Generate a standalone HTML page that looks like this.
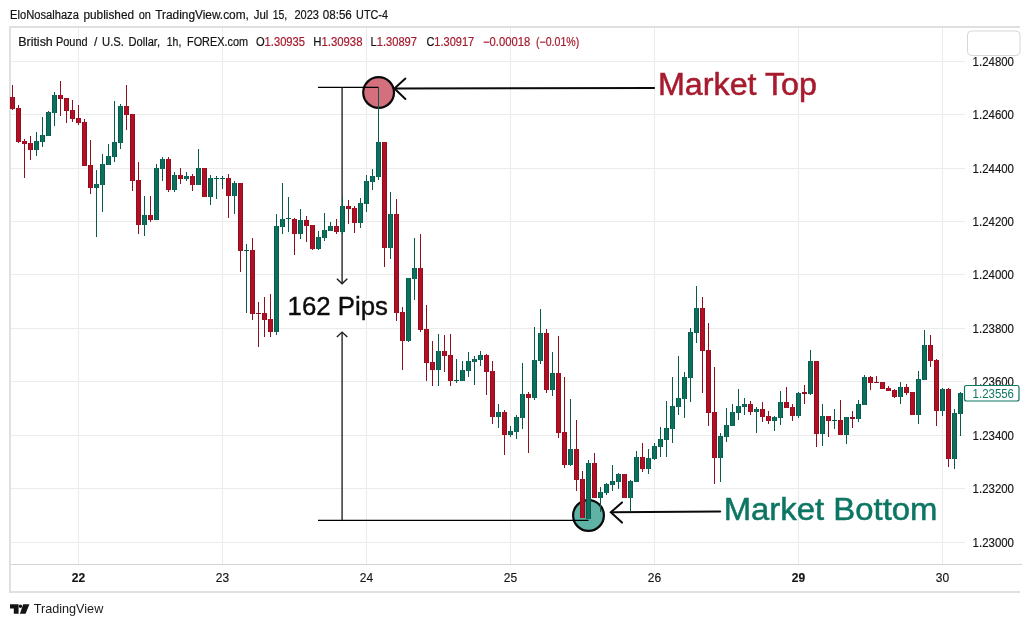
<!DOCTYPE html>
<html lang="en"><head><meta charset="utf-8"><title>GBPUSD chart</title>
<style>
html,body{margin:0;padding:0;background:#fff;}
body{width:1034px;height:627px;overflow:hidden;font-family:"Liberation Sans","DejaVu Sans",sans-serif;}
svg{display:block;}
text{font-family:"Liberation Sans","DejaVu Sans",sans-serif;}
.ax{font-size:12px;fill:#141414;stroke:#141414;stroke-width:0.15px;}
.t12{font-size:12px;fill:#141414;stroke:#141414;stroke-width:0.2px;}
.rv{fill:#a61b2e;stroke:#a61b2e;}
</style></head><body>
<svg width="1034" height="627" viewBox="0 0 1034 627">
<rect width="1034" height="627" fill="#ffffff"/>

<g shape-rendering="crispEdges" stroke="#ebebeb" stroke-width="1">
<line x1="11" y1="61.5" x2="965" y2="61.5"/>
<line x1="11" y1="114.5" x2="965" y2="114.5"/>
<line x1="11" y1="168.5" x2="965" y2="168.5"/>
<line x1="11" y1="221.5" x2="965" y2="221.5"/>
<line x1="11" y1="274.5" x2="965" y2="274.5"/>
<line x1="11" y1="328.5" x2="965" y2="328.5"/>
<line x1="11" y1="381.5" x2="965" y2="381.5"/>
<line x1="11" y1="435.5" x2="965" y2="435.5"/>
<line x1="11" y1="488.5" x2="965" y2="488.5"/>
<line x1="11" y1="542.5" x2="965" y2="542.5"/>
<line x1="78.5" y1="28" x2="78.5" y2="564"/>
<line x1="222.5" y1="28" x2="222.5" y2="564"/>
<line x1="366.5" y1="28" x2="366.5" y2="564"/>
<line x1="510.5" y1="28" x2="510.5" y2="564"/>
<line x1="654.5" y1="28" x2="654.5" y2="564"/>
<line x1="798.5" y1="28" x2="798.5" y2="564"/>
<line x1="942.5" y1="28" x2="942.5" y2="564"/>
</g>
<g shape-rendering="crispEdges">
<rect x="9" y="26" width="1011" height="2" fill="#e0e0e0"/>
<rect x="9" y="26" width="2" height="567" fill="#e0e0e0"/>
<rect x="9" y="591" width="1011" height="2" fill="#e0e0e0"/>
<rect x="11" y="564" width="1011" height="1" fill="#d4d4d4"/>
</g><circle cx="378.6" cy="92.5" r="15.4" fill="#d4707e" stroke="#0a0a0a" stroke-width="2.2"/>
<circle cx="588.5" cy="515.5" r="15.4" fill="#5eb3a5" stroke="#0a0a0a" stroke-width="2.2"/>
<g fill="none" stroke="#1a1a1a" stroke-linecap="butt">
<line x1="318" y1="87.4" x2="378.6" y2="87.4" stroke-width="1.2" stroke="#000"/>
<line x1="318" y1="520.3" x2="588.5" y2="520.3" stroke-width="1.2" stroke="#000"/>
<line x1="342.1" y1="87.6" x2="342.1" y2="283.5" stroke-width="1.4" stroke="#262626"/>
<line x1="342.1" y1="332.4" x2="342.1" y2="520.3" stroke-width="1.4" stroke="#262626"/>
<polyline points="336.9,278.8 342.1,283.8 347.3,278.8" stroke-width="1.4" stroke="#1c1c1c"/>
<polyline points="336.9,337.1 342.1,332.1 347.3,337.1" stroke-width="1.4" stroke="#1c1c1c"/>
</g>
<g fill="none" stroke="#0a0a0a" stroke-width="2" stroke-linecap="round" stroke-linejoin="miter">
<line x1="395" y1="88.6" x2="654.8" y2="88.0" stroke-linecap="butt"/>
<polyline points="405.4,78.6 394.4,88.6 405.4,99"/>
<line x1="611.5" y1="512.3" x2="720.2" y2="511.5"/>
<polyline points="622,502.4 610.8,512.3 622,522.6"/>
</g><g shape-rendering="crispEdges">
<rect x="12" y="85" width="1" height="25" fill="#8e1020"/>
<rect x="10" y="97" width="5" height="12" fill="#8e1020"/><rect x="11" y="97" width="3" height="12" fill="#b30f24"/>
<rect x="18" y="105" width="1" height="38" fill="#8e1020"/>
<rect x="16" y="108" width="5" height="34" fill="#8e1020"/><rect x="17" y="108" width="3" height="34" fill="#b30f24"/>
<rect x="24" y="139" width="1" height="39" fill="#8e1020"/>
<rect x="22" y="141" width="5" height="3" fill="#8e1020"/><rect x="23" y="141" width="3" height="3" fill="#b30f24"/>
<rect x="30" y="136" width="1" height="24" fill="#8e1020"/>
<rect x="28" y="143" width="5" height="7" fill="#8e1020"/><rect x="29" y="143" width="3" height="7" fill="#b30f24"/>
<rect x="36" y="132" width="1" height="24" fill="#085a4a"/>
<rect x="34" y="141" width="5" height="9" fill="#085a4a"/><rect x="35" y="141" width="3" height="9" fill="#0b715e"/>
<rect x="42" y="117" width="1" height="30" fill="#085a4a"/>
<rect x="40" y="135" width="5" height="7" fill="#085a4a"/><rect x="41" y="135" width="3" height="7" fill="#0b715e"/>
<rect x="48" y="111" width="1" height="25" fill="#085a4a"/>
<rect x="46" y="112" width="5" height="24" fill="#085a4a"/><rect x="47" y="112" width="3" height="24" fill="#0b715e"/>
<rect x="54" y="92" width="1" height="34" fill="#085a4a"/>
<rect x="52" y="95" width="5" height="18" fill="#085a4a"/><rect x="53" y="95" width="3" height="18" fill="#0b715e"/>
<rect x="60" y="81" width="1" height="35" fill="#8e1020"/>
<rect x="58" y="95" width="5" height="4" fill="#8e1020"/><rect x="59" y="95" width="3" height="4" fill="#b30f24"/>
<rect x="66" y="98" width="1" height="25" fill="#8e1020"/>
<rect x="64" y="98" width="5" height="13" fill="#8e1020"/><rect x="65" y="98" width="3" height="13" fill="#b30f24"/>
<rect x="72" y="100" width="1" height="22" fill="#8e1020"/>
<rect x="70" y="110" width="5" height="9" fill="#8e1020"/><rect x="71" y="110" width="3" height="9" fill="#b30f24"/>
<rect x="78" y="105" width="1" height="20" fill="#8e1020"/>
<rect x="76" y="118" width="5" height="5" fill="#8e1020"/><rect x="77" y="118" width="3" height="5" fill="#b30f24"/>
<rect x="84" y="119" width="1" height="47" fill="#8e1020"/>
<rect x="82" y="122" width="5" height="44" fill="#8e1020"/><rect x="83" y="122" width="3" height="44" fill="#b30f24"/>
<rect x="90" y="140" width="1" height="54" fill="#8e1020"/>
<rect x="88" y="165" width="5" height="23" fill="#8e1020"/><rect x="89" y="165" width="3" height="23" fill="#b30f24"/>
<rect x="96" y="170" width="1" height="67" fill="#085a4a"/>
<rect x="94" y="184" width="5" height="4" fill="#085a4a"/><rect x="95" y="184" width="3" height="4" fill="#0b715e"/>
<rect x="102" y="154" width="1" height="58" fill="#085a4a"/>
<rect x="100" y="164" width="5" height="21" fill="#085a4a"/><rect x="101" y="164" width="3" height="21" fill="#0b715e"/>
<rect x="108" y="144" width="1" height="21" fill="#085a4a"/>
<rect x="106" y="156" width="5" height="9" fill="#085a4a"/><rect x="107" y="156" width="3" height="9" fill="#0b715e"/>
<rect x="114" y="101" width="1" height="61" fill="#085a4a"/>
<rect x="112" y="142" width="5" height="15" fill="#085a4a"/><rect x="113" y="142" width="3" height="15" fill="#0b715e"/>
<rect x="120" y="104" width="1" height="45" fill="#085a4a"/>
<rect x="118" y="106" width="5" height="37" fill="#085a4a"/><rect x="119" y="106" width="3" height="37" fill="#0b715e"/>
<rect x="126" y="85" width="1" height="45" fill="#8e1020"/>
<rect x="124" y="106" width="5" height="9" fill="#8e1020"/><rect x="125" y="106" width="3" height="9" fill="#b30f24"/>
<rect x="132" y="114" width="1" height="77" fill="#8e1020"/>
<rect x="130" y="114" width="5" height="67" fill="#8e1020"/><rect x="131" y="114" width="3" height="67" fill="#b30f24"/>
<rect x="138" y="162" width="1" height="72" fill="#8e1020"/>
<rect x="136" y="180" width="5" height="45" fill="#8e1020"/><rect x="137" y="180" width="3" height="45" fill="#b30f24"/>
<rect x="144" y="196" width="1" height="40" fill="#085a4a"/>
<rect x="142" y="215" width="5" height="10" fill="#085a4a"/><rect x="143" y="215" width="3" height="10" fill="#0b715e"/>
<rect x="150" y="196" width="1" height="26" fill="#8e1020"/>
<rect x="148" y="215" width="5" height="5" fill="#8e1020"/><rect x="149" y="215" width="3" height="5" fill="#b30f24"/>
<rect x="156" y="164" width="1" height="56" fill="#085a4a"/>
<rect x="154" y="168" width="5" height="52" fill="#085a4a"/><rect x="155" y="168" width="3" height="52" fill="#0b715e"/>
<rect x="162" y="157" width="1" height="24" fill="#085a4a"/>
<rect x="160" y="159" width="5" height="10" fill="#085a4a"/><rect x="161" y="159" width="3" height="10" fill="#0b715e"/>
<rect x="168" y="157" width="1" height="35" fill="#8e1020"/>
<rect x="166" y="159" width="5" height="31" fill="#8e1020"/><rect x="167" y="159" width="3" height="31" fill="#b30f24"/>
<rect x="174" y="172" width="1" height="20" fill="#085a4a"/>
<rect x="172" y="175" width="5" height="15" fill="#085a4a"/><rect x="173" y="175" width="3" height="15" fill="#0b715e"/>
<rect x="180" y="168" width="1" height="16" fill="#8e1020"/>
<rect x="178" y="175" width="5" height="4" fill="#8e1020"/><rect x="179" y="175" width="3" height="4" fill="#b30f24"/>
<rect x="186" y="172" width="1" height="9" fill="#085a4a"/>
<rect x="184" y="176" width="5" height="3" fill="#085a4a"/><rect x="185" y="176" width="3" height="3" fill="#0b715e"/>
<rect x="192" y="174" width="1" height="17" fill="#8e1020"/>
<rect x="190" y="176" width="5" height="9" fill="#8e1020"/><rect x="191" y="176" width="3" height="9" fill="#b30f24"/>
<rect x="198" y="149" width="1" height="36" fill="#085a4a"/>
<rect x="196" y="168" width="5" height="17" fill="#085a4a"/><rect x="197" y="168" width="3" height="17" fill="#0b715e"/>
<rect x="204" y="168" width="1" height="29" fill="#8e1020"/>
<rect x="202" y="168" width="5" height="29" fill="#8e1020"/><rect x="203" y="168" width="3" height="29" fill="#b30f24"/>
<rect x="210" y="175" width="1" height="30" fill="#085a4a"/>
<rect x="208" y="178" width="5" height="19" fill="#085a4a"/><rect x="209" y="178" width="3" height="19" fill="#0b715e"/>
<rect x="216" y="176" width="1" height="23" fill="#085a4a"/>
<rect x="214" y="178" width="5" height="1" fill="#085a4a"/>
<rect x="222" y="176" width="1" height="13" fill="#085a4a"/>
<rect x="220" y="178" width="5" height="1" fill="#085a4a"/>
<rect x="228" y="174" width="1" height="44" fill="#8e1020"/>
<rect x="226" y="178" width="5" height="18" fill="#8e1020"/><rect x="227" y="178" width="3" height="18" fill="#b30f24"/>
<rect x="234" y="181" width="1" height="33" fill="#085a4a"/>
<rect x="232" y="183" width="5" height="13" fill="#085a4a"/><rect x="233" y="183" width="3" height="13" fill="#0b715e"/>
<rect x="240" y="183" width="1" height="89" fill="#8e1020"/>
<rect x="238" y="183" width="5" height="68" fill="#8e1020"/><rect x="239" y="183" width="3" height="68" fill="#b30f24"/>
<rect x="246" y="244" width="1" height="69" fill="#085a4a"/>
<rect x="244" y="250" width="5" height="1" fill="#085a4a"/>
<rect x="252" y="238" width="1" height="82" fill="#8e1020"/>
<rect x="250" y="250" width="5" height="64" fill="#8e1020"/><rect x="251" y="250" width="3" height="64" fill="#b30f24"/>
<rect x="258" y="302" width="1" height="45" fill="#8e1020"/>
<rect x="256" y="313" width="5" height="1" fill="#8e1020"/>
<rect x="264" y="297" width="1" height="40" fill="#8e1020"/>
<rect x="262" y="313" width="5" height="7" fill="#8e1020"/><rect x="263" y="313" width="3" height="7" fill="#b30f24"/>
<rect x="270" y="294" width="1" height="43" fill="#8e1020"/>
<rect x="268" y="319" width="5" height="13" fill="#8e1020"/><rect x="269" y="319" width="3" height="13" fill="#b30f24"/>
<rect x="276" y="214" width="1" height="121" fill="#085a4a"/>
<rect x="274" y="226" width="5" height="106" fill="#085a4a"/><rect x="275" y="226" width="3" height="106" fill="#0b715e"/>
<rect x="282" y="183" width="1" height="51" fill="#085a4a"/>
<rect x="280" y="219" width="5" height="8" fill="#085a4a"/><rect x="281" y="219" width="3" height="8" fill="#0b715e"/>
<rect x="288" y="197" width="1" height="35" fill="#085a4a"/>
<rect x="286" y="218" width="5" height="1" fill="#085a4a"/>
<rect x="294" y="218" width="1" height="37" fill="#8e1020"/>
<rect x="292" y="219" width="5" height="15" fill="#8e1020"/><rect x="293" y="219" width="3" height="15" fill="#b30f24"/>
<rect x="300" y="209" width="1" height="30" fill="#085a4a"/>
<rect x="298" y="220" width="5" height="14" fill="#085a4a"/><rect x="299" y="220" width="3" height="14" fill="#0b715e"/>
<rect x="306" y="216" width="1" height="26" fill="#8e1020"/>
<rect x="304" y="220" width="5" height="6" fill="#8e1020"/><rect x="305" y="220" width="3" height="6" fill="#b30f24"/>
<rect x="312" y="225" width="1" height="25" fill="#8e1020"/>
<rect x="310" y="225" width="5" height="24" fill="#8e1020"/><rect x="311" y="225" width="3" height="24" fill="#b30f24"/>
<rect x="318" y="231" width="1" height="19" fill="#085a4a"/>
<rect x="316" y="237" width="5" height="12" fill="#085a4a"/><rect x="317" y="237" width="3" height="12" fill="#0b715e"/>
<rect x="324" y="213" width="1" height="28" fill="#085a4a"/>
<rect x="322" y="230" width="5" height="8" fill="#085a4a"/><rect x="323" y="230" width="3" height="8" fill="#0b715e"/>
<rect x="330" y="222" width="1" height="9" fill="#085a4a"/>
<rect x="328" y="226" width="5" height="5" fill="#085a4a"/><rect x="329" y="226" width="3" height="5" fill="#0b715e"/>
<rect x="336" y="219" width="1" height="15" fill="#8e1020"/>
<rect x="334" y="226" width="5" height="6" fill="#8e1020"/><rect x="335" y="226" width="3" height="6" fill="#b30f24"/>
<rect x="342" y="196" width="1" height="38" fill="#085a4a"/>
<rect x="340" y="206" width="5" height="26" fill="#085a4a"/><rect x="341" y="206" width="3" height="26" fill="#0b715e"/>
<rect x="348" y="200" width="1" height="24" fill="#8e1020"/>
<rect x="346" y="206" width="5" height="3" fill="#8e1020"/><rect x="347" y="206" width="3" height="3" fill="#b30f24"/>
<rect x="354" y="206" width="1" height="27" fill="#8e1020"/>
<rect x="352" y="208" width="5" height="15" fill="#8e1020"/><rect x="353" y="208" width="3" height="15" fill="#b30f24"/>
<rect x="360" y="198" width="1" height="30" fill="#085a4a"/>
<rect x="358" y="203" width="5" height="20" fill="#085a4a"/><rect x="359" y="203" width="3" height="20" fill="#0b715e"/>
<rect x="366" y="175" width="1" height="37" fill="#085a4a"/>
<rect x="364" y="181" width="5" height="23" fill="#085a4a"/><rect x="365" y="181" width="3" height="23" fill="#0b715e"/>
<rect x="372" y="169" width="1" height="21" fill="#085a4a"/>
<rect x="370" y="176" width="5" height="6" fill="#085a4a"/><rect x="371" y="176" width="3" height="6" fill="#0b715e"/>
<rect x="378" y="88" width="1" height="92" fill="#085a4a"/>
<rect x="376" y="142" width="5" height="35" fill="#085a4a"/><rect x="377" y="142" width="3" height="35" fill="#0b715e"/>
<rect x="384" y="142" width="1" height="125" fill="#8e1020"/>
<rect x="382" y="142" width="5" height="106" fill="#8e1020"/><rect x="383" y="142" width="3" height="106" fill="#b30f24"/>
<rect x="390" y="192" width="1" height="67" fill="#085a4a"/>
<rect x="388" y="214" width="5" height="34" fill="#085a4a"/><rect x="389" y="214" width="3" height="34" fill="#0b715e"/>
<rect x="396" y="199" width="1" height="122" fill="#8e1020"/>
<rect x="394" y="214" width="5" height="99" fill="#8e1020"/><rect x="395" y="214" width="3" height="99" fill="#b30f24"/>
<rect x="402" y="307" width="1" height="63" fill="#8e1020"/>
<rect x="400" y="312" width="5" height="29" fill="#8e1020"/><rect x="401" y="312" width="3" height="29" fill="#b30f24"/>
<rect x="408" y="278" width="1" height="64" fill="#085a4a"/>
<rect x="406" y="278" width="5" height="63" fill="#085a4a"/><rect x="407" y="278" width="3" height="63" fill="#0b715e"/>
<rect x="414" y="238" width="1" height="62" fill="#085a4a"/>
<rect x="412" y="268" width="5" height="11" fill="#085a4a"/><rect x="413" y="268" width="3" height="11" fill="#0b715e"/>
<rect x="420" y="234" width="1" height="98" fill="#8e1020"/>
<rect x="418" y="268" width="5" height="62" fill="#8e1020"/><rect x="419" y="268" width="3" height="62" fill="#b30f24"/>
<rect x="426" y="305" width="1" height="76" fill="#8e1020"/>
<rect x="424" y="329" width="5" height="34" fill="#8e1020"/><rect x="425" y="329" width="3" height="34" fill="#b30f24"/>
<rect x="432" y="341" width="1" height="45" fill="#8e1020"/>
<rect x="430" y="362" width="5" height="8" fill="#8e1020"/><rect x="431" y="362" width="3" height="8" fill="#b30f24"/>
<rect x="438" y="334" width="1" height="52" fill="#085a4a"/>
<rect x="436" y="351" width="5" height="19" fill="#085a4a"/><rect x="437" y="351" width="3" height="19" fill="#0b715e"/>
<rect x="444" y="335" width="1" height="37" fill="#8e1020"/>
<rect x="442" y="351" width="5" height="5" fill="#8e1020"/><rect x="443" y="351" width="3" height="5" fill="#b30f24"/>
<rect x="450" y="334" width="1" height="52" fill="#8e1020"/>
<rect x="448" y="355" width="5" height="26" fill="#8e1020"/><rect x="449" y="355" width="3" height="26" fill="#b30f24"/>
<rect x="456" y="359" width="1" height="24" fill="#085a4a"/>
<rect x="454" y="380" width="5" height="1" fill="#085a4a"/>
<rect x="462" y="361" width="1" height="20" fill="#085a4a"/>
<rect x="460" y="370" width="5" height="11" fill="#085a4a"/><rect x="461" y="370" width="3" height="11" fill="#0b715e"/>
<rect x="468" y="352" width="1" height="25" fill="#085a4a"/>
<rect x="466" y="361" width="5" height="10" fill="#085a4a"/><rect x="467" y="361" width="3" height="10" fill="#0b715e"/>
<rect x="474" y="356" width="1" height="29" fill="#085a4a"/>
<rect x="472" y="359" width="5" height="3" fill="#085a4a"/><rect x="473" y="359" width="3" height="3" fill="#0b715e"/>
<rect x="480" y="351" width="1" height="15" fill="#085a4a"/>
<rect x="478" y="355" width="5" height="5" fill="#085a4a"/><rect x="479" y="355" width="3" height="5" fill="#0b715e"/>
<rect x="486" y="354" width="1" height="41" fill="#8e1020"/>
<rect x="484" y="355" width="5" height="17" fill="#8e1020"/><rect x="485" y="355" width="3" height="17" fill="#b30f24"/>
<rect x="492" y="361" width="1" height="63" fill="#8e1020"/>
<rect x="490" y="371" width="5" height="46" fill="#8e1020"/><rect x="491" y="371" width="3" height="46" fill="#b30f24"/>
<rect x="498" y="404" width="1" height="24" fill="#085a4a"/>
<rect x="496" y="412" width="5" height="5" fill="#085a4a"/><rect x="497" y="412" width="3" height="5" fill="#0b715e"/>
<rect x="504" y="410" width="1" height="45" fill="#8e1020"/>
<rect x="502" y="412" width="5" height="23" fill="#8e1020"/><rect x="503" y="412" width="3" height="23" fill="#b30f24"/>
<rect x="510" y="426" width="1" height="11" fill="#085a4a"/>
<rect x="508" y="431" width="5" height="4" fill="#085a4a"/><rect x="509" y="431" width="3" height="4" fill="#0b715e"/>
<rect x="516" y="415" width="1" height="24" fill="#085a4a"/>
<rect x="514" y="417" width="5" height="15" fill="#085a4a"/><rect x="515" y="417" width="3" height="15" fill="#0b715e"/>
<rect x="522" y="363" width="1" height="66" fill="#085a4a"/>
<rect x="520" y="394" width="5" height="24" fill="#085a4a"/><rect x="521" y="394" width="3" height="24" fill="#0b715e"/>
<rect x="528" y="392" width="1" height="61" fill="#8e1020"/>
<rect x="526" y="394" width="5" height="4" fill="#8e1020"/><rect x="527" y="394" width="3" height="4" fill="#b30f24"/>
<rect x="534" y="327" width="1" height="73" fill="#085a4a"/>
<rect x="532" y="360" width="5" height="38" fill="#085a4a"/><rect x="533" y="360" width="3" height="38" fill="#0b715e"/>
<rect x="540" y="309" width="1" height="55" fill="#085a4a"/>
<rect x="538" y="333" width="5" height="28" fill="#085a4a"/><rect x="539" y="333" width="3" height="28" fill="#0b715e"/>
<rect x="546" y="329" width="1" height="64" fill="#8e1020"/>
<rect x="544" y="333" width="5" height="57" fill="#8e1020"/><rect x="545" y="333" width="3" height="57" fill="#b30f24"/>
<rect x="552" y="352" width="1" height="44" fill="#085a4a"/>
<rect x="550" y="373" width="5" height="17" fill="#085a4a"/><rect x="551" y="373" width="3" height="17" fill="#0b715e"/>
<rect x="558" y="336" width="1" height="102" fill="#8e1020"/>
<rect x="556" y="373" width="5" height="60" fill="#8e1020"/><rect x="557" y="373" width="3" height="60" fill="#b30f24"/>
<rect x="564" y="377" width="1" height="91" fill="#8e1020"/>
<rect x="562" y="432" width="5" height="33" fill="#8e1020"/><rect x="563" y="432" width="3" height="33" fill="#b30f24"/>
<rect x="570" y="399" width="1" height="67" fill="#085a4a"/>
<rect x="568" y="449" width="5" height="16" fill="#085a4a"/><rect x="569" y="449" width="3" height="16" fill="#0b715e"/>
<rect x="576" y="420" width="1" height="71" fill="#8e1020"/>
<rect x="574" y="449" width="5" height="31" fill="#8e1020"/><rect x="575" y="449" width="3" height="31" fill="#b30f24"/>
<rect x="582" y="471" width="1" height="47" fill="#8e1020"/>
<rect x="580" y="479" width="5" height="39" fill="#8e1020"/><rect x="581" y="479" width="3" height="39" fill="#b30f24"/>
<rect x="588" y="460" width="1" height="59" fill="#085a4a"/>
<rect x="586" y="463" width="5" height="56" fill="#085a4a"/><rect x="587" y="463" width="3" height="56" fill="#0b715e"/>
<rect x="594" y="453" width="1" height="45" fill="#8e1020"/>
<rect x="592" y="463" width="5" height="35" fill="#8e1020"/><rect x="593" y="463" width="3" height="35" fill="#b30f24"/>
<rect x="600" y="487" width="1" height="25" fill="#085a4a"/>
<rect x="598" y="492" width="5" height="6" fill="#085a4a"/><rect x="599" y="492" width="3" height="6" fill="#0b715e"/>
<rect x="606" y="483" width="1" height="12" fill="#085a4a"/>
<rect x="604" y="484" width="5" height="9" fill="#085a4a"/><rect x="605" y="484" width="3" height="9" fill="#0b715e"/>
<rect x="612" y="465" width="1" height="26" fill="#085a4a"/>
<rect x="610" y="481" width="5" height="4" fill="#085a4a"/><rect x="611" y="481" width="3" height="4" fill="#0b715e"/>
<rect x="618" y="473" width="1" height="16" fill="#085a4a"/>
<rect x="616" y="474" width="5" height="8" fill="#085a4a"/><rect x="617" y="474" width="3" height="8" fill="#0b715e"/>
<rect x="624" y="474" width="1" height="24" fill="#8e1020"/>
<rect x="622" y="474" width="5" height="24" fill="#8e1020"/><rect x="623" y="474" width="3" height="24" fill="#b30f24"/>
<rect x="630" y="480" width="1" height="31" fill="#085a4a"/>
<rect x="628" y="481" width="5" height="17" fill="#085a4a"/><rect x="629" y="481" width="3" height="17" fill="#0b715e"/>
<rect x="636" y="451" width="1" height="31" fill="#085a4a"/>
<rect x="634" y="457" width="5" height="25" fill="#085a4a"/><rect x="635" y="457" width="3" height="25" fill="#0b715e"/>
<rect x="642" y="443" width="1" height="29" fill="#8e1020"/>
<rect x="640" y="457" width="5" height="12" fill="#8e1020"/><rect x="641" y="457" width="3" height="12" fill="#b30f24"/>
<rect x="648" y="449" width="1" height="25" fill="#085a4a"/>
<rect x="646" y="458" width="5" height="11" fill="#085a4a"/><rect x="647" y="458" width="3" height="11" fill="#0b715e"/>
<rect x="654" y="443" width="1" height="17" fill="#085a4a"/>
<rect x="652" y="446" width="5" height="13" fill="#085a4a"/><rect x="653" y="446" width="3" height="13" fill="#0b715e"/>
<rect x="660" y="427" width="1" height="30" fill="#085a4a"/>
<rect x="658" y="439" width="5" height="8" fill="#085a4a"/><rect x="659" y="439" width="3" height="8" fill="#0b715e"/>
<rect x="666" y="401" width="1" height="56" fill="#085a4a"/>
<rect x="664" y="428" width="5" height="12" fill="#085a4a"/><rect x="665" y="428" width="3" height="12" fill="#0b715e"/>
<rect x="672" y="377" width="1" height="66" fill="#085a4a"/>
<rect x="670" y="406" width="5" height="23" fill="#085a4a"/><rect x="671" y="406" width="3" height="23" fill="#0b715e"/>
<rect x="678" y="356" width="1" height="59" fill="#085a4a"/>
<rect x="676" y="398" width="5" height="9" fill="#085a4a"/><rect x="677" y="398" width="3" height="9" fill="#0b715e"/>
<rect x="684" y="372" width="1" height="46" fill="#085a4a"/>
<rect x="682" y="377" width="5" height="22" fill="#085a4a"/><rect x="683" y="377" width="3" height="22" fill="#0b715e"/>
<rect x="690" y="328" width="1" height="74" fill="#085a4a"/>
<rect x="688" y="332" width="5" height="46" fill="#085a4a"/><rect x="689" y="332" width="3" height="46" fill="#0b715e"/>
<rect x="696" y="286" width="1" height="57" fill="#085a4a"/>
<rect x="694" y="308" width="5" height="25" fill="#085a4a"/><rect x="695" y="308" width="3" height="25" fill="#0b715e"/>
<rect x="702" y="297" width="1" height="96" fill="#8e1020"/>
<rect x="700" y="308" width="5" height="43" fill="#8e1020"/><rect x="701" y="308" width="3" height="43" fill="#b30f24"/>
<rect x="708" y="323" width="1" height="103" fill="#8e1020"/>
<rect x="706" y="350" width="5" height="63" fill="#8e1020"/><rect x="707" y="350" width="3" height="63" fill="#b30f24"/>
<rect x="714" y="367" width="1" height="117" fill="#8e1020"/>
<rect x="712" y="412" width="5" height="46" fill="#8e1020"/><rect x="713" y="412" width="3" height="46" fill="#b30f24"/>
<rect x="720" y="433" width="1" height="49" fill="#085a4a"/>
<rect x="718" y="436" width="5" height="22" fill="#085a4a"/><rect x="719" y="436" width="3" height="22" fill="#0b715e"/>
<rect x="726" y="408" width="1" height="34" fill="#085a4a"/>
<rect x="724" y="425" width="5" height="12" fill="#085a4a"/><rect x="725" y="425" width="3" height="12" fill="#0b715e"/>
<rect x="732" y="404" width="1" height="22" fill="#085a4a"/>
<rect x="730" y="412" width="5" height="14" fill="#085a4a"/><rect x="731" y="412" width="3" height="14" fill="#0b715e"/>
<rect x="738" y="389" width="1" height="31" fill="#085a4a"/>
<rect x="736" y="406" width="5" height="7" fill="#085a4a"/><rect x="737" y="406" width="3" height="7" fill="#0b715e"/>
<rect x="744" y="398" width="1" height="17" fill="#085a4a"/>
<rect x="742" y="404" width="5" height="3" fill="#085a4a"/><rect x="743" y="404" width="3" height="3" fill="#0b715e"/>
<rect x="750" y="401" width="1" height="14" fill="#8e1020"/>
<rect x="748" y="404" width="5" height="8" fill="#8e1020"/><rect x="749" y="404" width="3" height="8" fill="#b30f24"/>
<rect x="756" y="407" width="1" height="26" fill="#085a4a"/>
<rect x="754" y="409" width="5" height="3" fill="#085a4a"/><rect x="755" y="409" width="3" height="3" fill="#0b715e"/>
<rect x="762" y="402" width="1" height="20" fill="#8e1020"/>
<rect x="760" y="409" width="5" height="8" fill="#8e1020"/><rect x="761" y="409" width="3" height="8" fill="#b30f24"/>
<rect x="768" y="411" width="1" height="13" fill="#8e1020"/>
<rect x="766" y="416" width="5" height="5" fill="#8e1020"/><rect x="767" y="416" width="3" height="5" fill="#b30f24"/>
<rect x="774" y="416" width="1" height="15" fill="#085a4a"/>
<rect x="772" y="417" width="5" height="4" fill="#085a4a"/><rect x="773" y="417" width="3" height="4" fill="#0b715e"/>
<rect x="780" y="391" width="1" height="34" fill="#085a4a"/>
<rect x="778" y="402" width="5" height="16" fill="#085a4a"/><rect x="779" y="402" width="3" height="16" fill="#0b715e"/>
<rect x="786" y="387" width="1" height="21" fill="#8e1020"/>
<rect x="784" y="402" width="5" height="6" fill="#8e1020"/><rect x="785" y="402" width="3" height="6" fill="#b30f24"/>
<rect x="792" y="404" width="1" height="17" fill="#8e1020"/>
<rect x="790" y="407" width="5" height="9" fill="#8e1020"/><rect x="791" y="407" width="3" height="9" fill="#b30f24"/>
<rect x="798" y="392" width="1" height="26" fill="#085a4a"/>
<rect x="796" y="393" width="5" height="23" fill="#085a4a"/><rect x="797" y="393" width="3" height="23" fill="#0b715e"/>
<rect x="804" y="385" width="1" height="19" fill="#8e1020"/>
<rect x="802" y="392" width="5" height="2" fill="#8e1020"/>
<rect x="810" y="350" width="1" height="45" fill="#085a4a"/>
<rect x="808" y="361" width="5" height="33" fill="#085a4a"/><rect x="809" y="361" width="3" height="33" fill="#0b715e"/>
<rect x="816" y="361" width="1" height="86" fill="#8e1020"/>
<rect x="814" y="361" width="5" height="73" fill="#8e1020"/><rect x="815" y="361" width="3" height="73" fill="#b30f24"/>
<rect x="822" y="404" width="1" height="42" fill="#085a4a"/>
<rect x="820" y="416" width="5" height="18" fill="#085a4a"/><rect x="821" y="416" width="3" height="18" fill="#0b715e"/>
<rect x="828" y="416" width="1" height="21" fill="#8e1020"/>
<rect x="826" y="416" width="5" height="5" fill="#8e1020"/><rect x="827" y="416" width="3" height="5" fill="#b30f24"/>
<rect x="834" y="409" width="1" height="20" fill="#085a4a"/>
<rect x="832" y="420" width="5" height="1" fill="#085a4a"/>
<rect x="840" y="400" width="1" height="35" fill="#8e1020"/>
<rect x="838" y="420" width="5" height="15" fill="#8e1020"/><rect x="839" y="420" width="3" height="15" fill="#b30f24"/>
<rect x="846" y="417" width="1" height="27" fill="#085a4a"/>
<rect x="844" y="417" width="5" height="18" fill="#085a4a"/><rect x="845" y="417" width="3" height="18" fill="#0b715e"/>
<rect x="852" y="411" width="1" height="17" fill="#8e1020"/>
<rect x="850" y="417" width="5" height="2" fill="#8e1020"/>
<rect x="858" y="400" width="1" height="22" fill="#085a4a"/>
<rect x="856" y="404" width="5" height="15" fill="#085a4a"/><rect x="857" y="404" width="3" height="15" fill="#0b715e"/>
<rect x="864" y="375" width="1" height="30" fill="#085a4a"/>
<rect x="862" y="377" width="5" height="28" fill="#085a4a"/><rect x="863" y="377" width="3" height="28" fill="#0b715e"/>
<rect x="870" y="376" width="1" height="14" fill="#8e1020"/>
<rect x="868" y="377" width="5" height="6" fill="#8e1020"/><rect x="869" y="377" width="3" height="6" fill="#b30f24"/>
<rect x="876" y="376" width="1" height="7" fill="#8e1020"/>
<rect x="874" y="382" width="5" height="1" fill="#8e1020"/>
<rect x="882" y="382" width="1" height="7" fill="#8e1020"/>
<rect x="880" y="382" width="5" height="7" fill="#8e1020"/><rect x="881" y="382" width="3" height="7" fill="#b30f24"/>
<rect x="888" y="386" width="1" height="5" fill="#8e1020"/>
<rect x="886" y="388" width="5" height="3" fill="#8e1020"/><rect x="887" y="388" width="3" height="3" fill="#b30f24"/>
<rect x="894" y="389" width="1" height="9" fill="#8e1020"/>
<rect x="892" y="390" width="5" height="7" fill="#8e1020"/><rect x="893" y="390" width="3" height="7" fill="#b30f24"/>
<rect x="900" y="382" width="1" height="22" fill="#085a4a"/>
<rect x="898" y="387" width="5" height="10" fill="#085a4a"/><rect x="899" y="387" width="3" height="10" fill="#0b715e"/>
<rect x="906" y="384" width="1" height="11" fill="#8e1020"/>
<rect x="904" y="387" width="5" height="6" fill="#8e1020"/><rect x="905" y="387" width="3" height="6" fill="#b30f24"/>
<rect x="912" y="392" width="1" height="23" fill="#8e1020"/>
<rect x="910" y="392" width="5" height="23" fill="#8e1020"/><rect x="911" y="392" width="3" height="23" fill="#b30f24"/>
<rect x="918" y="371" width="1" height="53" fill="#085a4a"/>
<rect x="916" y="379" width="5" height="36" fill="#085a4a"/><rect x="917" y="379" width="3" height="36" fill="#0b715e"/>
<rect x="924" y="330" width="1" height="50" fill="#085a4a"/>
<rect x="922" y="345" width="5" height="35" fill="#085a4a"/><rect x="923" y="345" width="3" height="35" fill="#0b715e"/>
<rect x="930" y="335" width="1" height="32" fill="#8e1020"/>
<rect x="928" y="345" width="5" height="16" fill="#8e1020"/><rect x="929" y="345" width="3" height="16" fill="#b30f24"/>
<rect x="936" y="359" width="1" height="67" fill="#8e1020"/>
<rect x="934" y="360" width="5" height="51" fill="#8e1020"/><rect x="935" y="360" width="3" height="51" fill="#b30f24"/>
<rect x="942" y="388" width="1" height="28" fill="#085a4a"/>
<rect x="940" y="389" width="5" height="22" fill="#085a4a"/><rect x="941" y="389" width="3" height="22" fill="#0b715e"/>
<rect x="948" y="388" width="1" height="79" fill="#8e1020"/>
<rect x="946" y="389" width="5" height="70" fill="#8e1020"/><rect x="947" y="389" width="3" height="70" fill="#b30f24"/>
<rect x="954" y="409" width="1" height="60" fill="#085a4a"/>
<rect x="952" y="413" width="5" height="46" fill="#085a4a"/><rect x="953" y="413" width="3" height="46" fill="#0b715e"/>
<rect x="960" y="392" width="1" height="44" fill="#085a4a"/>
<rect x="958" y="393" width="5" height="21" fill="#085a4a"/><rect x="959" y="393" width="3" height="21" fill="#0b715e"/>
</g><text x="657.9" y="94.7" font-size="31" fill="#a61b2e" stroke="#a61b2e" stroke-width="0.5" textLength="159.1" lengthAdjust="spacingAndGlyphs">Market Top</text>
<text x="723.7" y="519.6" font-size="31" fill="#0d7663" stroke="#0d7663" stroke-width="0.5" textLength="213.8" lengthAdjust="spacingAndGlyphs">Market Bottom</text>
<text x="287.6" y="315.4" font-size="26.5" fill="#0c0c0c" stroke="#0c0c0c" stroke-width="0.4" textLength="100.3" lengthAdjust="spacingAndGlyphs">162 Pips</text>
<text class="t12" x="10.1" y="19" textLength="68.8" lengthAdjust="spacingAndGlyphs">EloNosalhaza</text>
<text class="t12" x="83.5" y="19" textLength="50.5" lengthAdjust="spacingAndGlyphs">published</text>
<text class="t12" x="138.7" y="19" textLength="12.2" lengthAdjust="spacingAndGlyphs">on</text>
<text class="t12" x="155.2" y="19" textLength="93.7" lengthAdjust="spacingAndGlyphs">TradingView.com,</text>
<text class="t12" x="253.8" y="19" textLength="14.6" lengthAdjust="spacingAndGlyphs">Jul</text>
<text class="t12" x="272.7" y="19" textLength="14.5" lengthAdjust="spacingAndGlyphs">15,</text>
<text class="t12" x="294.4" y="19" textLength="24.6" lengthAdjust="spacingAndGlyphs">2023</text>
<text class="t12" x="322.8" y="19" textLength="29.0" lengthAdjust="spacingAndGlyphs">08:56</text>
<text class="t12" x="356.1" y="19" textLength="31.9" lengthAdjust="spacingAndGlyphs">UTC-4</text>
<text class="t12" x="18.2" y="45.8" textLength="34.6" lengthAdjust="spacingAndGlyphs">British</text>
<text class="t12" x="56" y="45.8" textLength="31.6" lengthAdjust="spacingAndGlyphs">Pound</text>
<text class="t12" x="102" y="45.8" textLength="21.9" lengthAdjust="spacingAndGlyphs">U.S.</text>
<text class="t12" x="128.5" y="45.8" textLength="31.5" lengthAdjust="spacingAndGlyphs">Dollar,</text>
<text class="t12" x="166.8" y="45.8" textLength="14.5" lengthAdjust="spacingAndGlyphs">1h,</text>
<text class="t12" x="187" y="45.8" textLength="61.0" lengthAdjust="spacingAndGlyphs">FOREX.com</text>
<text class="t12" x="94" y="45.8">/</text>
<text class="t12" x="255.9" y="45.8" textLength="49.1" lengthAdjust="spacingAndGlyphs">O<tspan class="rv">1.30935</tspan></text>
<text class="t12" x="313.2" y="45.8" textLength="49.3" lengthAdjust="spacingAndGlyphs">H<tspan class="rv">1.30938</tspan></text>
<text class="t12" x="370.6" y="45.8" textLength="46.4" lengthAdjust="spacingAndGlyphs">L<tspan class="rv">1.30897</tspan></text>
<text class="t12" x="426.4" y="45.8" textLength="47.8" lengthAdjust="spacingAndGlyphs">C<tspan class="rv">1.30917</tspan></text>
<text class="t12 rv" x="483" y="45.8" textLength="47.2" lengthAdjust="spacingAndGlyphs">−0.00018</text>
<text class="t12 rv" x="536" y="45.8" textLength="43.2" lengthAdjust="spacingAndGlyphs">(−0.01%)</text>
<rect x="967.5" y="31" width="52.5" height="24.5" rx="4" ry="4" fill="#fff" stroke="#d6d6d6" stroke-width="1"/>
<text class="ax" x="972.6" y="65.5" textLength="41.4" lengthAdjust="spacingAndGlyphs">1.24800</text>
<text class="ax" x="972.6" y="118.5" textLength="41.4" lengthAdjust="spacingAndGlyphs">1.24600</text>
<text class="ax" x="972.6" y="172.5" textLength="41.4" lengthAdjust="spacingAndGlyphs">1.24400</text>
<text class="ax" x="972.6" y="225.5" textLength="41.4" lengthAdjust="spacingAndGlyphs">1.24200</text>
<text class="ax" x="972.6" y="278.5" textLength="41.4" lengthAdjust="spacingAndGlyphs">1.24000</text>
<text class="ax" x="972.6" y="332.5" textLength="41.4" lengthAdjust="spacingAndGlyphs">1.23800</text>
<text class="ax" x="972.6" y="385.5" textLength="41.4" lengthAdjust="spacingAndGlyphs">1.23600</text>
<text class="ax" x="972.6" y="439.5" textLength="41.4" lengthAdjust="spacingAndGlyphs">1.23400</text>
<text class="ax" x="972.6" y="492.5" textLength="41.4" lengthAdjust="spacingAndGlyphs">1.23200</text>
<text class="ax" x="972.6" y="546.5" textLength="41.4" lengthAdjust="spacingAndGlyphs">1.23000</text>
<rect x="964.5" y="385.5" width="54.5" height="15.5" rx="2" ry="2" fill="#fff" stroke="#0d7663" stroke-width="1.2"/>
<text x="972.6" y="397.9" font-size="12" fill="#0d7663" textLength="41.4" lengthAdjust="spacingAndGlyphs">1.23556</text>
<text class="ax" x="78.5" y="581.6" text-anchor="middle" font-weight="bold">22</text>
<text class="ax" x="222.5" y="581.6" text-anchor="middle">23</text>
<text class="ax" x="366.5" y="581.6" text-anchor="middle">24</text>
<text class="ax" x="510.5" y="581.6" text-anchor="middle">25</text>
<text class="ax" x="654.5" y="581.6" text-anchor="middle">26</text>
<text class="ax" x="798.5" y="581.6" text-anchor="middle" font-weight="bold">29</text>
<text class="ax" x="942.5" y="581.6" text-anchor="middle">30</text>
<g fill="#141414">
<path d="M10 604.2H18.6V613.7H13.8V608.4H10Z"/>
<circle cx="20.5" cy="606.2" r="1.7"/>
<path d="M23.2 604.2H29.4L25.6 613.7H19.9Z"/>
</g>
<text x="33.7" y="613.3" font-size="13" fill="#1a1a1a" textLength="69.6" lengthAdjust="spacingAndGlyphs">TradingView</text>
</svg>
</body></html>
